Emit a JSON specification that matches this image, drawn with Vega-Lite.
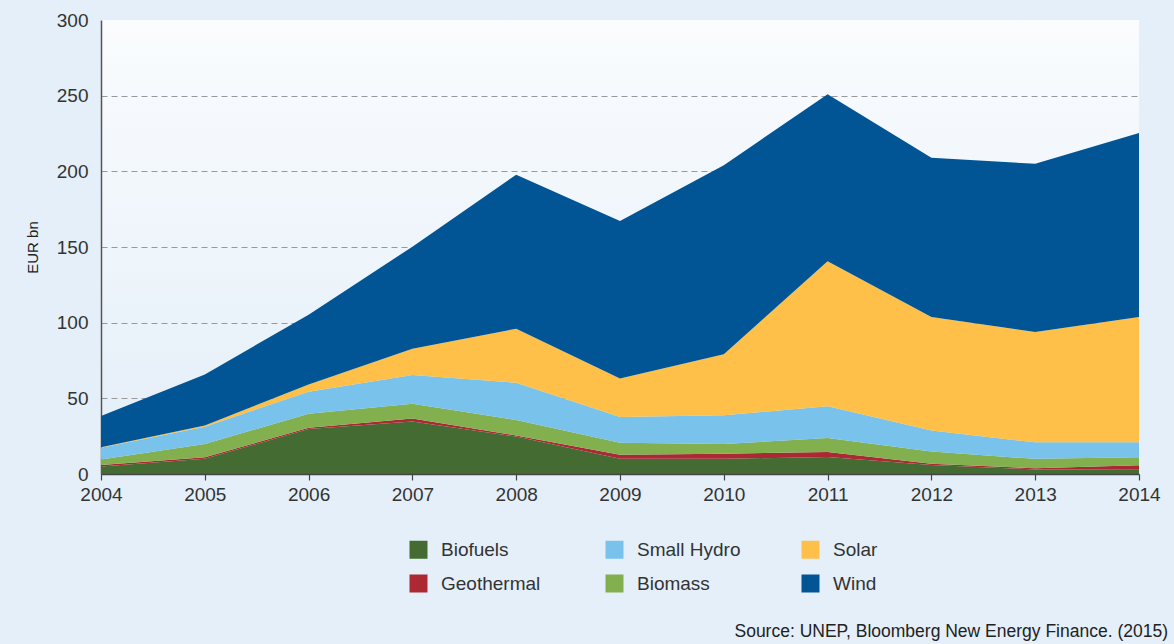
{
  "$schema": "https://vega.github.io/schema/vega-lite/v6.json",
  "width": 1038,
  "height": 454,
  "autosize": {"type": "none"},
  "padding": {"left": 101, "top": 20, "right": 35, "bottom": 170},
  "background": "#e4eff9",
  "config": {
    "font": "Liberation Sans",
    "view": {
      "stroke": null,
      "fill": {"gradient": "linear", "x1": 0, "y1": 0, "x2": 0, "y2": 1,
        "stops": [{"offset": 0, "color": "#fafcfe"}, {"offset": 1, "color": "#e3eef8"}]}
    }
  },
  "title": {
    "text": "Source: UNEP, Bloomberg New Energy Finance. (2015)",
    "orient": "bottom", "anchor": "end", "frame": "group",
    "fontSize": 17.5, "fontWeight": "normal", "color": "#222",
    "offset": 29, "dx": 29
  },
  "data": {
    "values": [
      {"year": 2004, "source": "Biofuels", "rank": 1, "value": 5.0},
      {"year": 2005, "source": "Biofuels", "rank": 1, "value": 10.0},
      {"year": 2006, "source": "Biofuels", "rank": 1, "value": 29.8},
      {"year": 2007, "source": "Biofuels", "rank": 1, "value": 34.7},
      {"year": 2008, "source": "Biofuels", "rank": 1, "value": 24.7},
      {"year": 2009, "source": "Biofuels", "rank": 1, "value": 10.0},
      {"year": 2010, "source": "Biofuels", "rank": 1, "value": 10.0},
      {"year": 2011, "source": "Biofuels", "rank": 1, "value": 11.3},
      {"year": 2012, "source": "Biofuels", "rank": 1, "value": 6.0},
      {"year": 2013, "source": "Biofuels", "rank": 1, "value": 3.0},
      {"year": 2014, "source": "Biofuels", "rank": 1, "value": 2.8},
      {"year": 2004, "source": "Geothermal", "rank": 2, "value": 1.0},
      {"year": 2005, "source": "Geothermal", "rank": 2, "value": 1.0},
      {"year": 2006, "source": "Geothermal", "rank": 2, "value": 0.8},
      {"year": 2007, "source": "Geothermal", "rank": 2, "value": 1.9},
      {"year": 2008, "source": "Geothermal", "rank": 2, "value": 0.8},
      {"year": 2009, "source": "Geothermal", "rank": 2, "value": 2.8},
      {"year": 2010, "source": "Geothermal", "rank": 2, "value": 3.4},
      {"year": 2011, "source": "Geothermal", "rank": 2, "value": 3.2},
      {"year": 2012, "source": "Geothermal", "rank": 2, "value": 0.8},
      {"year": 2013, "source": "Geothermal", "rank": 2, "value": 0.8},
      {"year": 2014, "source": "Geothermal", "rank": 2, "value": 2.9},
      {"year": 2004, "source": "Biomass", "rank": 3, "value": 3.6},
      {"year": 2005, "source": "Biomass", "rank": 3, "value": 8.8},
      {"year": 2006, "source": "Biomass", "rank": 3, "value": 9.2},
      {"year": 2007, "source": "Biomass", "rank": 3, "value": 9.8},
      {"year": 2008, "source": "Biomass", "rank": 3, "value": 10.2},
      {"year": 2009, "source": "Biomass", "rank": 3, "value": 7.8},
      {"year": 2010, "source": "Biomass", "rank": 3, "value": 6.4},
      {"year": 2011, "source": "Biomass", "rank": 3, "value": 9.3},
      {"year": 2012, "source": "Biomass", "rank": 3, "value": 8.1},
      {"year": 2013, "source": "Biomass", "rank": 3, "value": 6.2},
      {"year": 2014, "source": "Biomass", "rank": 3, "value": 5.3},
      {"year": 2004, "source": "Small Hydro", "rank": 4, "value": 7.8},
      {"year": 2005, "source": "Small Hydro", "rank": 4, "value": 11.5},
      {"year": 2006, "source": "Small Hydro", "rank": 4, "value": 14.6},
      {"year": 2007, "source": "Small Hydro", "rank": 4, "value": 19.0},
      {"year": 2008, "source": "Small Hydro", "rank": 4, "value": 24.6},
      {"year": 2009, "source": "Small Hydro", "rank": 4, "value": 17.1},
      {"year": 2010, "source": "Small Hydro", "rank": 4, "value": 19.1},
      {"year": 2011, "source": "Small Hydro", "rank": 4, "value": 20.9},
      {"year": 2012, "source": "Small Hydro", "rank": 4, "value": 13.8},
      {"year": 2013, "source": "Small Hydro", "rank": 4, "value": 10.9},
      {"year": 2014, "source": "Small Hydro", "rank": 4, "value": 9.9},
      {"year": 2004, "source": "Solar", "rank": 5, "value": 0.3},
      {"year": 2005, "source": "Solar", "rank": 5, "value": 0.7},
      {"year": 2006, "source": "Solar", "rank": 5, "value": 4.8},
      {"year": 2007, "source": "Solar", "rank": 5, "value": 17.3},
      {"year": 2008, "source": "Solar", "rank": 5, "value": 35.7},
      {"year": 2009, "source": "Solar", "rank": 5, "value": 25.4},
      {"year": 2010, "source": "Solar", "rank": 5, "value": 40.3},
      {"year": 2011, "source": "Solar", "rank": 5, "value": 95.9},
      {"year": 2012, "source": "Solar", "rank": 5, "value": 75.0},
      {"year": 2013, "source": "Solar", "rank": 5, "value": 73.0},
      {"year": 2014, "source": "Solar", "rank": 5, "value": 82.8},
      {"year": 2004, "source": "Wind", "rank": 6, "value": 20.6},
      {"year": 2005, "source": "Wind", "rank": 6, "value": 33.8},
      {"year": 2006, "source": "Wind", "rank": 6, "value": 46.1},
      {"year": 2007, "source": "Wind", "rank": 6, "value": 67.5},
      {"year": 2008, "source": "Wind", "rank": 6, "value": 101.8},
      {"year": 2009, "source": "Wind", "rank": 6, "value": 104.0},
      {"year": 2010, "source": "Wind", "rank": 6, "value": 124.8},
      {"year": 2011, "source": "Wind", "rank": 6, "value": 110.4},
      {"year": 2012, "source": "Wind", "rank": 6, "value": 105.3},
      {"year": 2013, "source": "Wind", "rank": 6, "value": 111.1},
      {"year": 2014, "source": "Wind", "rank": 6, "value": 121.7}
    ]
  },
  "mark": {"type": "area", "interpolate": "linear"},
  "encoding": {
    "x": {
      "field": "year", "type": "quantitative",
      "scale": {"domain": [2004, 2014], "nice": false, "zero": false},
      "axis": {
        "title": null, "values": [2004, 2005, 2006, 2007, 2008, 2009, 2010, 2011, 2012, 2013, 2014],
        "format": "d", "grid": false, "zindex": 1, "labelFlush": false,
        "domainColor": "#444", "domainWidth": 1.5,
        "tickColor": "#444", "tickSize": 6, "tickWidth": 1.2,
        "labelFontSize": 19, "labelColor": "#333", "labelPadding": 5
      }
    },
    "y": {
      "field": "value", "type": "quantitative", "stack": "zero",
      "scale": {"domain": [0, 300], "nice": false},
      "axis": {
        "title": "EUR bn", "titleFontSize": 15, "titleFontWeight": "normal", "titleColor": "#222", "titlePadding": 16,
        "values": [0, 50, 100, 150, 200, 250, 300],
        "grid": true, "gridColor": "#999", "gridDash": [6, 4], "gridWidth": 1.2,
        "gridOpacity": {"condition": {"test": "datum.value === 300 || datum.value === 0", "value": 0}, "value": 1},
        "ticks": false, "domainColor": "#555", "domainWidth": 1.5, "labelFlush": false,
        "labelFontSize": 19, "labelColor": "#333", "labelPadding": 13
      }
    },
    "color": {
      "field": "source", "type": "nominal",
      "scale": {
        "domain": ["Biofuels", "Geothermal", "Small Hydro", "Biomass", "Solar", "Wind"],
        "range": ["#446c32", "#ac2934", "#79c2eb", "#82b04f", "#fec048", "#025594"]
      },
      "legend": {
        "title": null, "orient": "none", "legendX": 308, "legendY": 520,
        "columns": 3, "gridAlign": "all", "columnPadding": 60, "rowPadding": 14,
        "symbolType": "square", "symbolSize": 324, "symbolStrokeWidth": 0, "symbolOpacity": 1,
        "labelFontSize": 19, "labelColor": "#333", "labelOffset": 13, "labelLimit": 300
      }
    },
    "order": {"field": "rank", "type": "quantitative"}
  }
}
